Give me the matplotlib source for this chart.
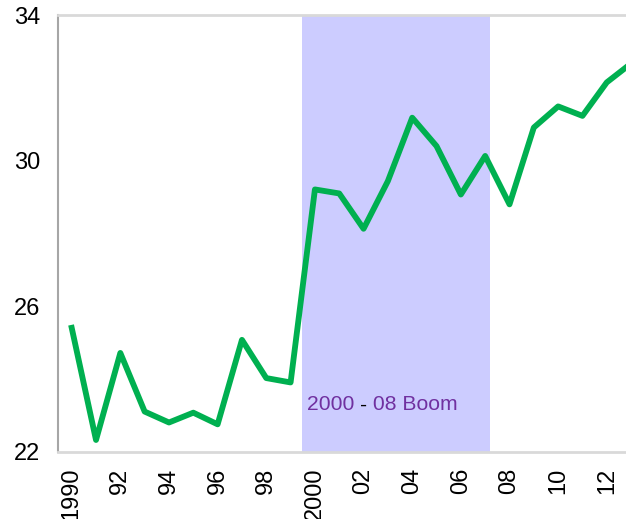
import numpy as np
import matplotlib
matplotlib.use("Agg")
import matplotlib.pyplot as plt

plt.rcParams['font.family'] = ['Liberation Sans', 'DejaVu Sans']

# --- DATA ---
years = list(range(1990, 2014))
values = [25.41, 22.33, 24.72, 23.11, 22.81, 23.08, 22.76, 25.08, 24.03, 23.91,
          29.21, 29.10, 28.13, 29.44, 31.18, 30.40, 29.07, 30.13, 28.80, 30.91,
          31.49, 31.23, 32.15, 32.67]
tick_years = list(range(1990, 2013, 2))
tick_labels = ['1990', '92', '94', '96', '98', '2000', '02', '04', '06', '08', '10', '12']
y_ticks = [22, 26, 30, 34]
boom_span = (1999.47, 2007.2)

fig = plt.figure(figsize=(6.26, 5.19), dpi=100)
ax = fig.add_axes([58 / 626, 67 / 519, 1 - 58 / 626, 437 / 519])

ax.axvspan(boom_span[0], boom_span[1], color='#ccccff', zorder=0, lw=0)
ax.plot(years, values, color='#00b050', linewidth=4.2, zorder=3, clip_on=True)

ax.set_xlim(1989.437, 2012.79)
ax.set_ylim(22, 34)
ax.set_yticks(y_ticks)
ax.set_yticklabels([str(v) for v in y_ticks], fontsize=17)
ax.set_xticks(tick_years)
ax.set_xticklabels(tick_labels, rotation=90, fontsize=17)
ax.tick_params(length=0)
ax.tick_params(axis='y', pad=13)
ax.tick_params(axis='x', pad=11)

ax.spines['right'].set_visible(False)
ax.spines['top'].set_color('#d9d9d9')
ax.spines['top'].set_linewidth(2)
ax.spines['bottom'].set_color('#d9d9d9')
ax.spines['bottom'].set_linewidth(2)
ax.spines['left'].set_color('#a6a6a6')
ax.spines['left'].set_linewidth(1.5)

# annotation: purple text with a black dash in the middle
t1 = ax.text(1999.66, 23.14, '2000 ', color='#7030a0', fontsize=15.2, va='baseline')
t2 = ax.annotate('-', xy=(1, 0), xycoords=t1, color='black', fontsize=15.2, va='bottom')
ax.annotate(' 08 Boom', xy=(1, 0), xycoords=t2, color='#7030a0', fontsize=15.2, va='bottom')

fig.savefig('out.png', dpi=100)
